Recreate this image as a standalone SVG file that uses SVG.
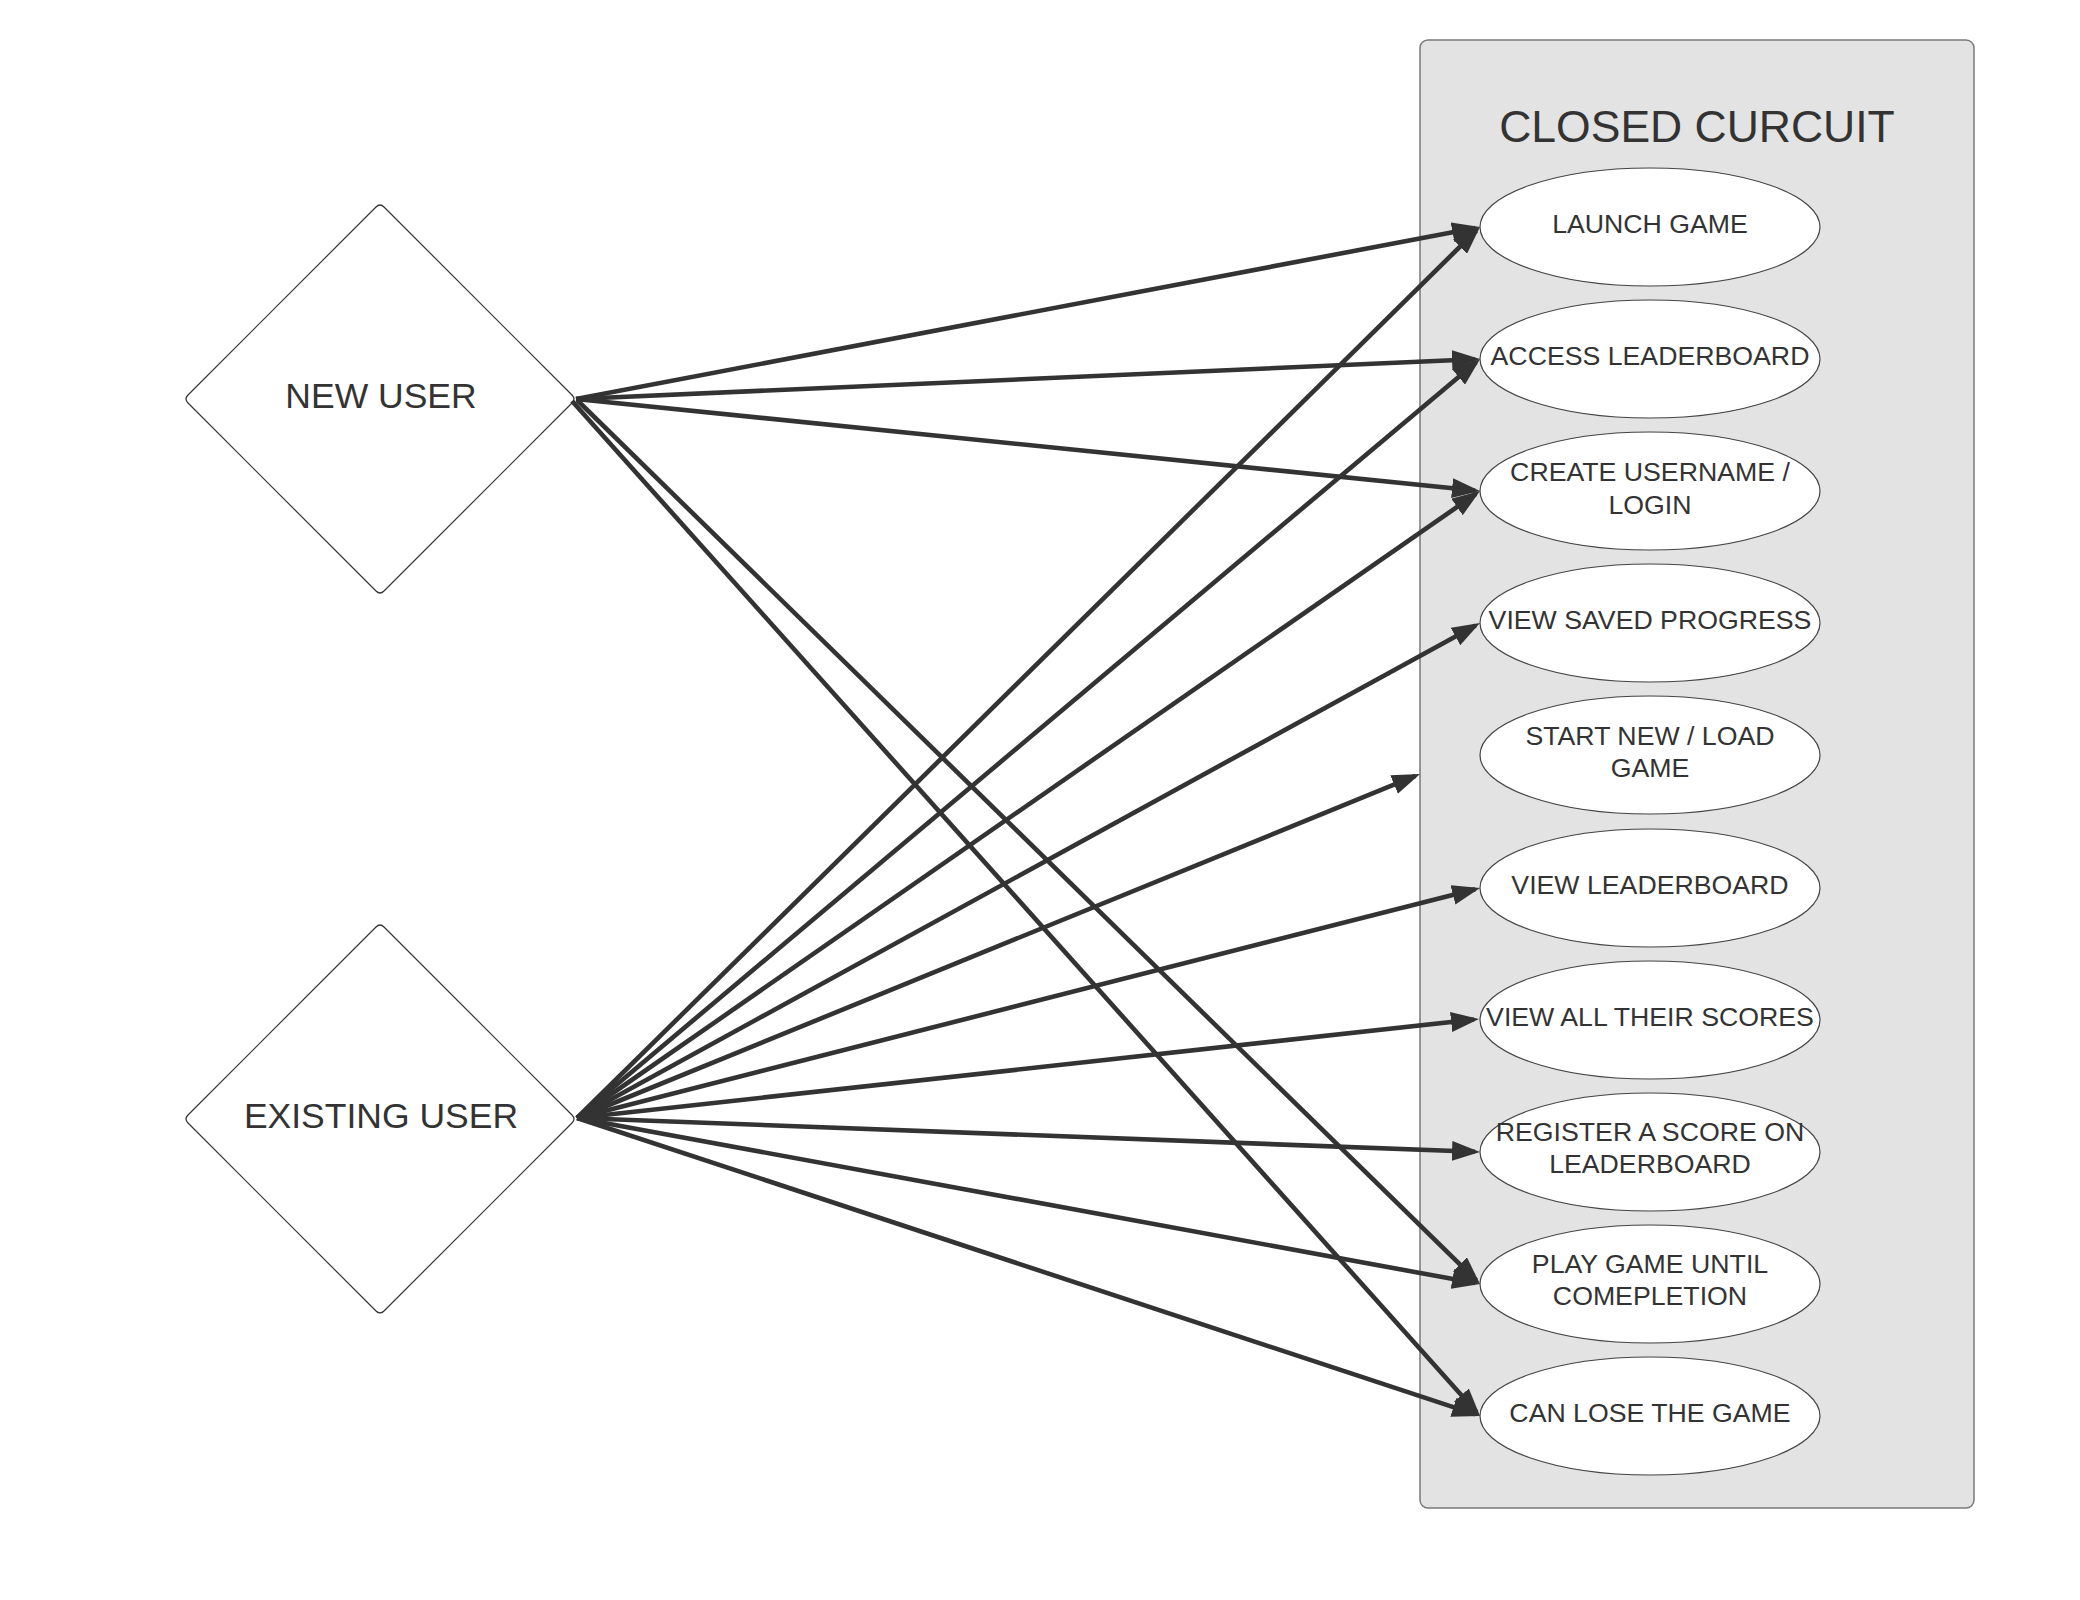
<svg xmlns="http://www.w3.org/2000/svg" width="2080" height="1600" viewBox="0 0 2080 1600">
<defs>
<style>
.txt{font-family:"Liberation Sans",Arial,sans-serif;fill:#333;text-anchor:middle}
.uc{font-size:26.7px}
.actor{font-size:35.5px}
.dia{fill:#fff;stroke:#333;stroke-width:1.2}
.uce{fill:#fff;stroke:#444;stroke-width:1.2}
.con{stroke:#333;stroke-width:4.6;fill:none;marker-end:url(#ah)}
</style>
<marker id="ah" markerUnits="userSpaceOnUse" markerWidth="28" markerHeight="20" viewBox="0 0 28 20" refX="23" refY="10" orient="auto">
<path d="M0,0 L28,10 L0,20 Z" fill="#333"/>
</marker>
</defs>
<rect width="2080" height="1600" fill="#fff"/>

<g id="system">
<rect x="1420" y="40" width="554" height="1468" rx="8" fill="#e3e3e3" stroke="#7a7a7a" stroke-width="1.5"/>
<text class="txt" x="1697" y="142" font-size="44.5">CLOSED CURCUIT</text>
</g>

<g id="new-user">
<path class="dia" d="M376,207 Q380,203 384,207 L572,395 Q576,399 572,403 L384,591 Q380,595 376,591 L188,403 Q184,399 188,395 Z"/>
<text class="txt actor" x="381" y="408">NEW USER</text>
</g>

<g id="existing-user">
<path class="dia" d="M376,927 Q380,923 384,927 L572,1115 Q576,1119 572,1123 L384,1311 Q380,1315 376,1311 L188,1123 Q184,1119 188,1115 Z"/>
<text class="txt actor" x="381" y="1128">EXISTING USER</text>
</g>

<g id="uc-launch"><ellipse class="uce" cx="1650" cy="227" rx="170" ry="59"/><text class="txt uc" x="1650" y="233">LAUNCH GAME</text></g>
<g id="uc-access"><ellipse class="uce" cx="1650" cy="359" rx="170" ry="59"/><text class="txt uc" x="1650" y="365">ACCESS LEADERBOARD</text></g>
<g id="uc-create"><ellipse class="uce" cx="1650" cy="491" rx="170" ry="59"/><text class="txt uc" x="1650" y="481">CREATE USERNAME /</text><text class="txt uc" x="1650" y="514">LOGIN</text></g>
<g id="uc-saved"><ellipse class="uce" cx="1650" cy="623" rx="170" ry="59"/><text class="txt uc" x="1650" y="629">VIEW SAVED PROGRESS</text></g>
<g id="uc-start"><ellipse class="uce" cx="1650" cy="755" rx="170" ry="59"/><text class="txt uc" x="1650" y="745">START NEW / LOAD</text><text class="txt uc" x="1650" y="777">GAME</text></g>
<g id="uc-viewlb"><ellipse class="uce" cx="1650" cy="888" rx="170" ry="59"/><text class="txt uc" x="1650" y="894">VIEW LEADERBOARD</text></g>
<g id="uc-scores"><ellipse class="uce" cx="1650" cy="1020" rx="170" ry="59"/><text class="txt uc" x="1650" y="1026">VIEW ALL THEIR SCORES</text></g>
<g id="uc-register"><ellipse class="uce" cx="1650" cy="1152" rx="170" ry="59"/><text class="txt uc" x="1650" y="1141">REGISTER A SCORE ON</text><text class="txt uc" x="1650" y="1173">LEADERBOARD</text></g>
<g id="uc-play"><ellipse class="uce" cx="1650" cy="1284" rx="170" ry="59"/><text class="txt uc" x="1650" y="1273">PLAY GAME UNTIL</text><text class="txt uc" x="1650" y="1305">COMEPLETION</text></g>
<g id="uc-lose"><ellipse class="uce" cx="1650" cy="1416" rx="170" ry="59"/><text class="txt uc" x="1650" y="1422">CAN LOSE THE GAME</text></g>

<g id="connectors">
<line class="con" x1="576" y1="399" x2="1475.1" y2="227.9"/>
<line class="con" x1="576" y1="399" x2="1475.0" y2="359.2"/>
<line class="con" x1="576" y1="399" x2="1475.0" y2="490.5"/>
<line class="con" x1="577" y1="400" x2="1476.4" y2="1280.5"/>
<line class="con" x1="572" y1="401" x2="1476.7" y2="1412.3"/>
<line class="con" x1="577" y1="1118" x2="1476.4" y2="230.5"/>
<line class="con" x1="577" y1="1118" x2="1476.2" y2="362.2"/>
<line class="con" x1="577" y1="1118" x2="1475.9" y2="493.9"/>
<line class="con" x1="577" y1="1118" x2="1475.6" y2="625.4"/>
<line class="con" x1="577" y1="1118" x2="1415.4" y2="775.9"/>
<line class="con" x1="577" y1="1118" x2="1475.2" y2="889.2"/>
<line class="con" x1="577" y1="1118" x2="1474.0" y2="1019.5"/>
<line class="con" x1="577" y1="1118" x2="1475.0" y2="1151.8"/>
<line class="con" x1="577" y1="1118" x2="1475.1" y2="1283.1"/>
<line class="con" x1="577" y1="1118" x2="1475.3" y2="1414.4"/>
</g>
</svg>
